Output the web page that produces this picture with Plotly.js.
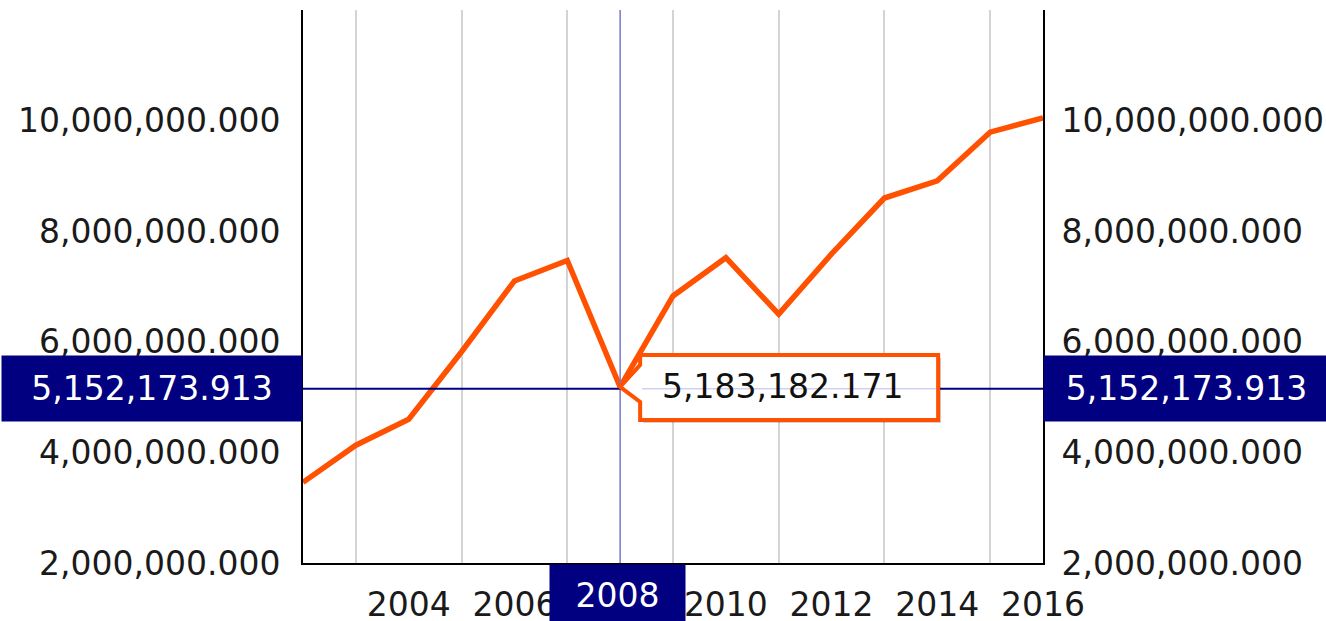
<!DOCTYPE html>
<html>
<head>
<meta charset="utf-8">
<script src="https://cdn.plot.ly/plotly-3.0.1.min.js"></script>
<style>html,body{margin:0;padding:0;background:#fff;}#chart{width:1326px;height:621px;}</style>
</head>
<body>
<div id="chart"></div>
<script>
const years = [2002,2003,2004,2005,2006,2007,2008,2009,2010,2011,2012,2013,2014,2015,2016];
const values = [3460000,4130000,4600000,5820000,7100000,7470000,5183182.171,6830000,7520000,6500000,7590000,8600000,8910000,9790000,10050000];
const gridYears = [2003,2005,2007,2009,2011,2013,2015];
const labelYears = [2004,2006,2008,2010,2012,2014,2016];
const yTicks = [2000000,4000000,6000000,8000000,10000000];
const yTickText = ['2,000,000.000','4,000,000.000','6,000,000.000','8,000,000.000','10,000,000.000'];
const crossX = 2008;
const crossY = 5152173.913;
const crossYText = '5,152,173.913';
const hoverIndex = 6;
const hoverText = '5,183,182.171';

const FONT = 'DejaVu Sans, Verdana, sans-serif';
const FS = 33;
const NAVY = '#000080';
const ORANGE = '#ff5100';
const TXT = '#1a1a1a';

const traces = [
  {x: years, y: values, type: 'scatter', mode: 'lines',
   line: {color: ORANGE, width: 5.5}, hoverinfo: 'skip', xaxis: 'x', yaxis: 'y'},
  {x: years, y: values, type: 'scatter', mode: 'lines',
   line: {color: 'rgba(0,0,0,0)', width: 0}, hoverinfo: 'skip', xaxis: 'x2', yaxis: 'y2'}
];

const layout = {
  width: 1326, height: 621,
  margin: {l: 303, r: 283, t: 10, b: 58},
  paper_bgcolor: '#fff', plot_bgcolor: '#fff',
  showlegend: false, hovermode: false,
  font: {family: FONT, size: FS, color: TXT},
  xaxis: {
    range: [2002, 2016], tickmode: 'array', tickvals: gridYears, ticktext: gridYears.map(() => ''),
    showgrid: true, gridcolor: '#d4d4d4', gridwidth: 2, zeroline: false,
    showline: true, linecolor: '#000', linewidth: 2, ticks: ''
  },
  xaxis2: {
    range: [2002, 2016], overlaying: 'x', anchor: 'y2', side: 'bottom',
    tickmode: 'array', tickvals: labelYears, ticktext: labelYears.map(String),
    showgrid: false, zeroline: false, showline: false,
    ticks: 'outside', ticklen: 12, tickcolor: 'rgba(0,0,0,0)',
    tickfont: {family: FONT, size: FS, color: TXT}
  },
  yaxis: {
    range: [2000000, 12000000], tickmode: 'array', tickvals: yTicks, ticktext: yTickText,
    showgrid: false, zeroline: false, showline: true, linecolor: '#000', linewidth: 2,
    ticks: 'outside', ticklen: 14, tickcolor: 'rgba(0,0,0,0)',
    tickfont: {family: FONT, size: FS, color: TXT}
  },
  yaxis2: {
    range: [2000000, 12000000], overlaying: 'y', side: 'right', anchor: 'x2',
    tickmode: 'array', tickvals: yTicks, ticktext: yTickText,
    showgrid: false, zeroline: false, showline: true, linecolor: '#000', linewidth: 2,
    ticks: 'outside', ticklen: 10, tickcolor: 'rgba(0,0,0,0)',
    tickfont: {family: FONT, size: FS, color: TXT}
  },
  shapes: [
    {type: 'line', xref: 'x', yref: 'paper', x0: crossX, x1: crossX, y0: 0, y1: 1,
     line: {color: '#7777cc', width: 1.5}, layer: 'above'},
    {type: 'line', xref: 'paper', yref: 'y', x0: 0, x1: 1, y0: crossY, y1: crossY,
     line: {color: NAVY, width: 2}, layer: 'above'},
    {type: 'path', xref: 'x', yref: 'y', xsizemode: 'pixel', ysizemode: 'pixel',
     xanchor: years[hoverIndex], yanchor: values[hoverIndex],
     path: 'M3,-3 L23,19 L23,29 L321,29 L321,-36 L23,-36 L23,-18 Z',
     fillcolor: 'rgba(0,0,0,0.18)', line: {width: 0}, layer: 'above'},
    {type: 'path', xref: 'x', yref: 'y', xsizemode: 'pixel', ysizemode: 'pixel',
     xanchor: years[hoverIndex], yanchor: values[hoverIndex],
     path: 'M0,0 L20,22 L20,32 L318,32 L318,-33 L20,-33 L20,-15 Z',
     fillcolor: '#ffffff', line: {color: ORANGE, width: 4}, layer: 'above'},
    {type: 'line', xref: 'x', yref: 'y', xsizemode: 'pixel', xanchor: years[hoverIndex],
     x0: 22, x1: 316, y0: crossY, y1: crossY,
     line: {color: 'rgba(120,120,220,0.35)', width: 1.5}, layer: 'above'}
  ],
  annotations: [
    {xref: 'paper', yref: 'y', x: 0, y: crossY, xanchor: 'right', yanchor: 'middle',
     text: crossYText, showarrow: false, bgcolor: NAVY, width: 298, height: 63,
     font: {family: FONT, size: FS, color: '#fff'}},
    {xref: 'paper', yref: 'y', x: 1, y: crossY, xanchor: 'left', yanchor: 'middle',
     text: crossYText, showarrow: false, bgcolor: NAVY, width: 283, height: 63,
     font: {family: FONT, size: FS, color: '#fff'}},
    {xref: 'x', yref: 'paper', x: crossX, y: 0, xanchor: 'center', yanchor: 'top',
     text: String(crossX), showarrow: false, bgcolor: NAVY, width: 133, height: 58, yshift: -1, xshift: -3,
     font: {family: FONT, size: FS, color: '#fff'}},
    {xref: 'x', yref: 'y', x: years[hoverIndex], y: values[hoverIndex], xanchor: 'center', yanchor: 'middle',
     xshift: 162, yshift: 0, text: hoverText, showarrow: false,
     font: {family: FONT, size: FS, color: '#111'}}
  ]
};

Plotly.newPlot('chart', traces, layout, {staticPlot: true, displayModeBar: false});
</script>
</body>
</html>
